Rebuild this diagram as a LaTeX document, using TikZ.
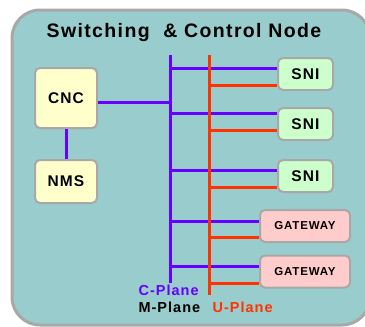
\documentclass[tikz,border=0pt]{standalone}
\usepackage{fontspec}
\setmainfont[LetterSpace=7]{Liberation Sans}
\usepackage{tikz}
\usetikzlibrary{calc}
\definecolor{panelbg}{HTML}{99CCCC}
\definecolor{rimgrey}{HTML}{A8A8A8}
\definecolor{cnccol}{HTML}{FFFFCC}
\definecolor{snicol}{HTML}{CCFFCC}
\definecolor{gwcol}{HTML}{FFCCCC}
\definecolor{cplane}{HTML}{6600FF}
\definecolor{uplane}{HTML}{FF3300}

\begin{document}
\begin{tikzpicture}[
  x=1pt, y=-1pt,
  unit/.style={
    draw=rimgrey, line width=2pt, rounded corners=5pt,
    inner sep=0pt, font=\bfseries\fontsize{15.5}{15.5}\selectfont
  },
  gwunit/.style={unit, fill=gwcol, minimum width=90pt, minimum height=32pt,
    font=\bfseries\fontsize{11.5}{12}\selectfont},
  cline/.style={cplane, line width=3pt},
  uline/.style={uplane, line width=3pt},
  plane/.style={anchor=west, font=\bfseries\fontsize{14.5}{14.5}\selectfont}
]
  \useasboundingbox (0,0) rectangle (365,327);
  \draw[rimgrey, line width=3pt, fill=panelbg, rounded corners=28pt]
    (12,10) rectangle (370,325);

  \node[font=\bfseries\fontsize{19.5}{19.5}\selectfont] (title) at (184,32)
    {Switching\ \ \& Control Node};

  \node[unit, fill=cnccol, minimum width=62pt, minimum height=60pt] (cnc) at (66,98) {CNC};
  \node[unit, fill=cnccol, minimum width=62pt, minimum height=43pt] (nms) at (66,181.5) {NMS};
  \node[unit, fill=snicol, minimum width=55pt, minimum height=32pt] (sni1) at (305.5,74) {SNI};
  \node[unit, fill=snicol, minimum width=55pt, minimum height=32pt] (sni2) at (305.5,124) {SNI};
  \node[unit, fill=snicol, minimum width=55pt, minimum height=32pt] (sni3) at (305.5,176) {SNI};
  \node[gwunit] (gw1) at (305,226) {GATEWAY};
  \node[gwunit] (gw2) at (305,271.5) {GATEWAY};

  % control plane bus
  \coordinate (ctop) at (170,55);
  \coordinate (cbot) at (170,283);
  \draw[cline] (ctop) -- (cbot);
  \draw[cline] (cnc) -- (nms);
  \draw[cline] ([yshift=-4pt]cnc.east) -- ([yshift=-4pt]cnc.east -| ctop);
  \draw[cline] ([yshift=6pt]sni1.west) -- ([yshift=6pt]sni1.west -| ctop);
  \draw[cline] ([yshift=11pt]sni2.west) -- ([yshift=11pt]sni2.west -| ctop);
  \draw[cline] ([yshift=6pt]sni3.west) -- ([yshift=6pt]sni3.west -| ctop);
  \draw[cline] ([yshift=5pt]gw1.west) -- ([yshift=5pt]gw1.west -| ctop);
  \draw[cline] ([yshift=5.5pt]gw2.west) -- ([yshift=5.5pt]gw2.west -| ctop);

  % user plane bus
  \coordinate (utop) at (209,55);
  \coordinate (ubot) at (209,295);
  \draw[uline] (utop) -- (ubot);
  \draw[uline] ([yshift=-11pt]sni1.west) -- ([yshift=-11pt]sni1.west -| utop);
  \draw[uline] ([yshift=-6pt]sni2.west) -- ([yshift=-6pt]sni2.west -| utop);
  \draw[uline] ([yshift=-11pt]sni3.west) -- ([yshift=-11pt]sni3.west -| utop);
  \draw[uline] ([yshift=-11pt]gw1.west) -- ([yshift=-11pt]gw1.west -| utop);
  \draw[uline] ([yshift=-11.5pt]gw2.west) -- ([yshift=-11.5pt]gw2.west -| utop);

  \node[plane, cplane] (clabel) at (135,290) {C-Plane};
  \node[plane] (mlabel) at (135,307) {M-Plane};
  \node[plane, uplane] (ulabel) at (209,307) {U-Plane};
\end{tikzpicture}
\end{document}
